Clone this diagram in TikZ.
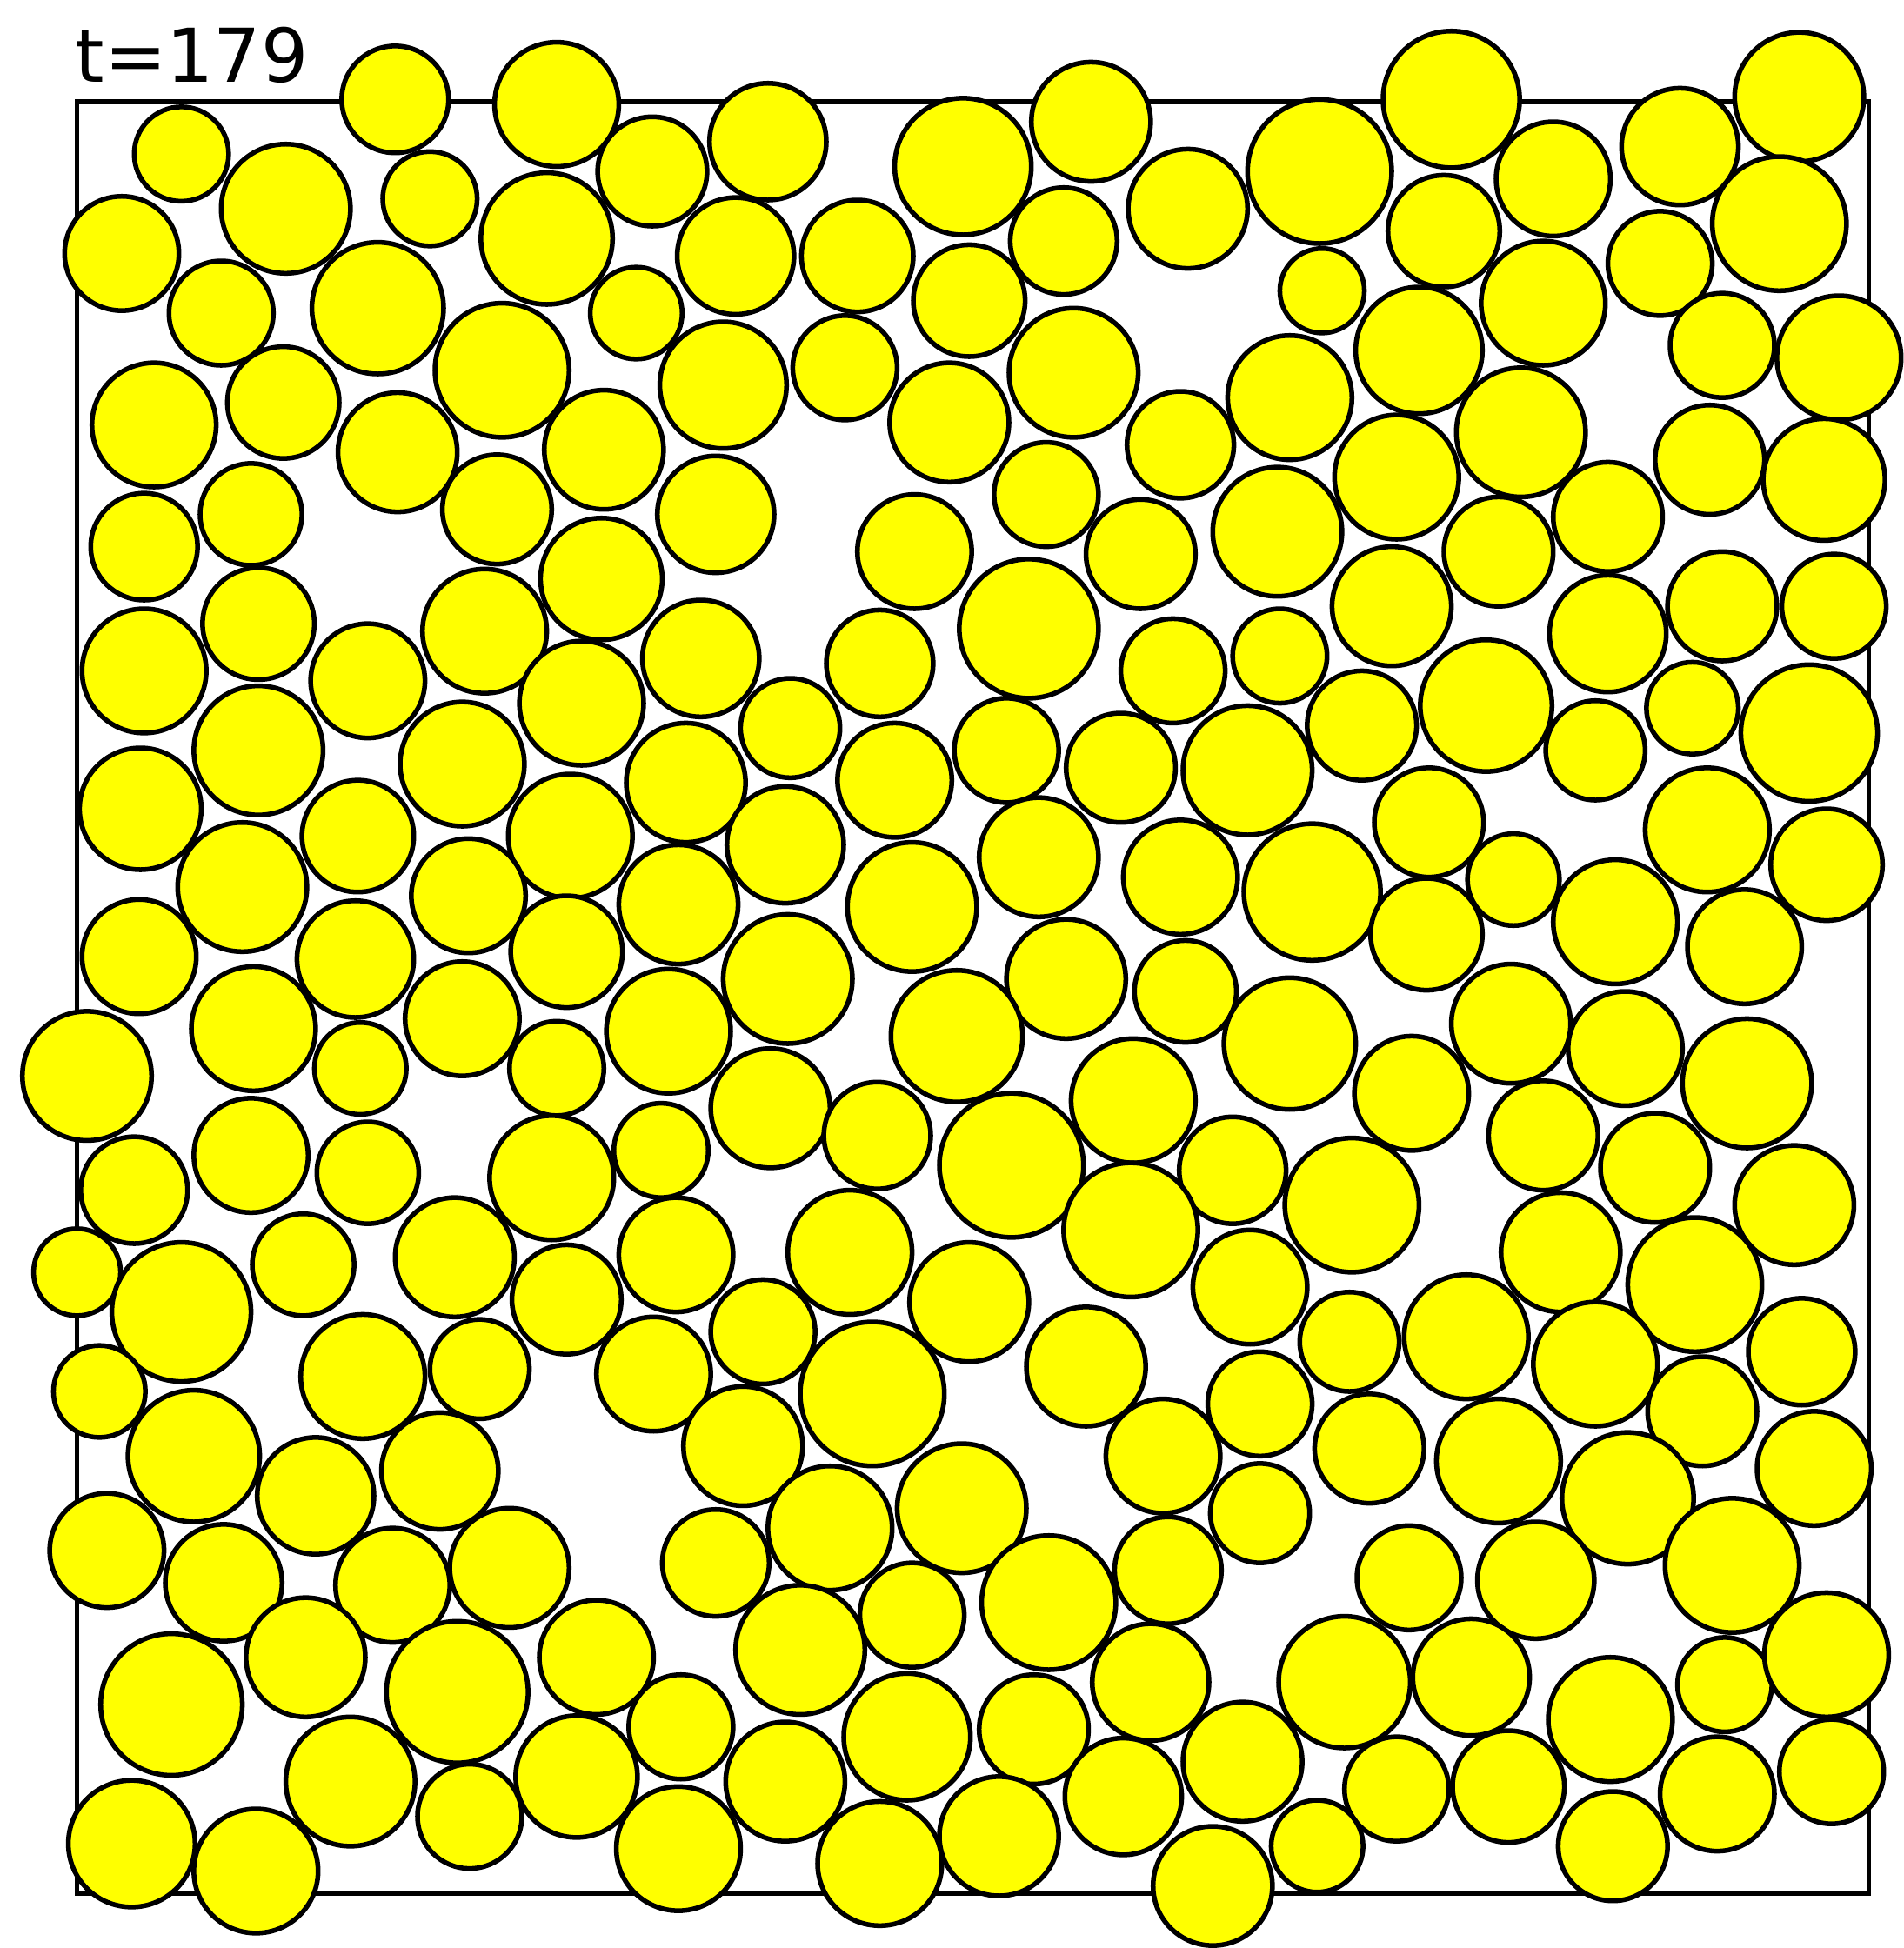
\documentclass[tikz,border=0pt]{standalone}
\usepackage{fontspec}
\usepackage{tikz}
\newfontfamily\labelfont{DejaVu Sans}
\definecolor{grainyellow}{RGB}{255,255,0}

\tikzset{disc/.style={draw=black,fill=grainyellow,line width=1.1pt}}

\begin{document}
\begin{tikzpicture}[x=0.1mm,y=-0.1mm]
\useasboundingbox (0,0) rectangle (1532,1568);
% time stamp:
\node[anchor=base west,inner sep=0pt,font=\labelfont\fontsize{17}{20}\selectfont] (stamp) at (60,66) {t=179};
% box:
\path[draw=black,line width=1.1pt] (62,82) rectangle (1504,1524);
% discs, top to bottom:
\path[disc] (146,124) circle[radius=38];
\path[disc] (318,80) circle[radius=43];
\path[disc] (448,84) circle[radius=50];
\path[disc] (525,138) circle[radius=44];
\path[disc] (618,114) circle[radius=47];
\path[disc] (775,134) circle[radius=55];
\path[disc] (878,98) circle[radius=48];
\path[disc] (956,168) circle[radius=48];
\path[disc] (1062,138) circle[radius=58];
\path[disc] (1168,80) circle[radius=55];
\path[disc] (1250,144) circle[radius=46];
\path[disc] (1352,118) circle[radius=47];
\path[disc] (1448,78) circle[radius=52];
\path[disc] (230,168) circle[radius=52];
\path[disc] (346,160) circle[radius=38];
\path[disc] (440,192) circle[radius=53];
\path[disc] (98,204) circle[radius=46];
\path[disc] (178,252) circle[radius=42];
\path[disc] (304,248) circle[radius=53];
\path[disc] (512,252) circle[radius=37];
\path[disc] (592,206) circle[radius=47];
\path[disc] (690,206) circle[radius=45];
\path[disc] (780,242) circle[radius=45];
\path[disc] (856,194) circle[radius=43];
\path[disc] (1064,234) circle[radius=34];
\path[disc] (1162,186) circle[radius=45];
\path[disc] (1242,244) circle[radius=50];
\path[disc] (1336,212) circle[radius=42];
\path[disc] (1432,180) circle[radius=54];
\path[disc] (1386,278) circle[radius=42];
\path[disc] (1480,288) circle[radius=50];
\path[disc] (1142,282) circle[radius=51];
\path[disc] (1038,320) circle[radius=50];
\path[disc] (864,300) circle[radius=52];
\path[disc] (764,340) circle[radius=48];
\path[disc] (680,296) circle[radius=42];
\path[disc] (582,310) circle[radius=51];
\path[disc] (404,298) circle[radius=54];
\path[disc] (228,324) circle[radius=45];
\path[disc] (124,342) circle[radius=50];
\path[disc] (320,364) circle[radius=48];
\path[disc] (486,362) circle[radius=48];
\path[disc] (400,410) circle[radius=44];
\path[disc] (576,414) circle[radius=47];
\path[disc] (736,444) circle[radius=46];
\path[disc] (842,398) circle[radius=42];
\path[disc] (950,358) circle[radius=43];
\path[disc] (918,446) circle[radius=44];
\path[disc] (1028,428) circle[radius=52];
\path[disc] (1124,384) circle[radius=50];
\path[disc] (1224,348) circle[radius=52];
\path[disc] (1376,370) circle[radius=44];
\path[disc] (1468,386) circle[radius=49];
\path[disc] (1206,444) circle[radius=44];
\path[disc] (1294,416) circle[radius=44];
\path[disc] (116,440) circle[radius=43];
\path[disc] (202,414) circle[radius=41];
\path[disc] (484,466) circle[radius=49];
\path[disc] (1120,488) circle[radius=48];
\path[disc] (1294,510) circle[radius=47];
\path[disc] (1386,488) circle[radius=44];
\path[disc] (1476,488) circle[radius=42];
\path[disc] (116,540) circle[radius=50];
\path[disc] (208,502) circle[radius=45];
\path[disc] (390,508) circle[radius=50];
\path[disc] (296,548) circle[radius=46];
\path[disc] (564,530) circle[radius=47];
\path[disc] (708,534) circle[radius=43];
\path[disc] (828,506) circle[radius=56];
\path[disc] (944,540) circle[radius=42];
\path[disc] (1030,528) circle[radius=38];
\path[disc] (1196,568) circle[radius=53];
\path[disc] (1096,584) circle[radius=44];
\path[disc] (1362,570) circle[radius=37];
\path[disc] (1456,590) circle[radius=55];
\path[disc] (468,566) circle[radius=50];
\path[disc] (208,604) circle[radius=52];
\path[disc] (113,651) circle[radius=49];
\path[disc] (372,615) circle[radius=50];
\path[disc] (636,586) circle[radius=40];
\path[disc] (552,630) circle[radius=48];
\path[disc] (720,628) circle[radius=46];
\path[disc] (810,604) circle[radius=42];
\path[disc] (902,618) circle[radius=44];
\path[disc] (1004,620) circle[radius=52];
\path[disc] (1150,662) circle[radius=44];
\path[disc] (1284,604) circle[radius=40];
\path[disc] (1374,668) circle[radius=50];
\path[disc] (1470,696) circle[radius=45];
\path[disc] (195,714) circle[radius=52];
\path[disc] (288,673) circle[radius=45];
\path[disc] (459,673) circle[radius=50];
\path[disc] (632,680) circle[radius=47];
\path[disc] (836,690) circle[radius=48];
\path[disc] (950,706) circle[radius=46];
\path[disc] (1056,718) circle[radius=55];
\path[disc] (1218,708) circle[radius=37];
\path[disc] (1300,742) circle[radius=50];
\path[disc] (377,721) circle[radius=46];
\path[disc] (546,728) circle[radius=48];
\path[disc] (734,730) circle[radius=52];
\path[disc] (112,770) circle[radius=46];
\path[disc] (286,772) circle[radius=47];
\path[disc] (456,766) circle[radius=45];
\path[disc] (1148,752) circle[radius=45];
\path[disc] (1404,762) circle[radius=46];
\path[disc] (634,788) circle[radius=52];
\path[disc] (858,788) circle[radius=48];
\path[disc] (954,798) circle[radius=41];
\path[disc] (204,828) circle[radius=50];
\path[disc] (372,820) circle[radius=46];
\path[disc] (538,830) circle[radius=50];
\path[disc] (770,834) circle[radius=53];
\path[disc] (1038,840) circle[radius=53];
\path[disc] (1216,824) circle[radius=48];
\path[disc] (1308,844) circle[radius=46];
\path[disc] (1406,872) circle[radius=52];
\path[disc] (70,866) circle[radius=52];
\path[disc] (290,860) circle[radius=37];
\path[disc] (448,860) circle[radius=38];
\path[disc] (620,892) circle[radius=48];
\path[disc] (912,886) circle[radius=50];
\path[disc] (1136,880) circle[radius=46];
\path[disc] (706,914) circle[radius=43];
\path[disc] (108,958) circle[radius=43];
\path[disc] (202,930) circle[radius=46];
\path[disc] (296,944) circle[radius=41];
\path[disc] (444,948) circle[radius=50];
\path[disc] (532,926) circle[radius=38];
\path[disc] (814,938) circle[radius=58];
\path[disc] (992,942) circle[radius=43];
\path[disc] (1242,914) circle[radius=44];
\path[disc] (1332,940) circle[radius=44];
\path[disc] (1444,970) circle[radius=48];
\path[disc] (910,990) circle[radius=54];
\path[disc] (1088,970) circle[radius=54];
\path[disc] (684,1008) circle[radius=50];
\path[disc] (544,1010) circle[radius=46];
\path[disc] (366,1012) circle[radius=48];
\path[disc] (244,1018) circle[radius=41];
\path[disc] (62,1024) circle[radius=35];
\path[disc] (146,1056) circle[radius=56];
\path[disc] (456,1046) circle[radius=44];
\path[disc] (780,1048) circle[radius=48];
\path[disc] (1006,1036) circle[radius=46];
\path[disc] (1256,1008) circle[radius=48];
\path[disc] (1364,1034) circle[radius=54];
\path[disc] (614,1072) circle[radius=42];
\path[disc] (1086,1080) circle[radius=40];
\path[disc] (1180,1076) circle[radius=50];
\path[disc] (1284,1098) circle[radius=50];
\path[disc] (1450,1088) circle[radius=43];
\path[disc] (874,1100) circle[radius=48];
\path[disc] (292,1108) circle[radius=50];
\path[disc] (386,1102) circle[radius=40];
\path[disc] (526,1106) circle[radius=46];
\path[disc] (702,1122) circle[radius=58];
\path[disc] (80,1120) circle[radius=37];
\path[disc] (1014,1130) circle[radius=42];
\path[disc] (1370,1136) circle[radius=44];
\path[disc] (156,1172) circle[radius=53];
\path[disc] (254,1204) circle[radius=47];
\path[disc] (354,1184) circle[radius=47];
\path[disc] (598,1164) circle[radius=48];
\path[disc] (936,1172) circle[radius=46];
\path[disc] (1102,1166) circle[radius=44];
\path[disc] (1206,1176) circle[radius=50];
\path[disc] (1310,1206) circle[radius=53];
\path[disc] (1460,1182) circle[radius=46];
\path[disc] (774,1214) circle[radius=52];
\path[disc] (668,1230) circle[radius=50];
\path[disc] (1014,1218) circle[radius=40];
\path[disc] (86,1248) circle[radius=46];
\path[disc] (180,1274) circle[radius=47];
\path[disc] (316,1276) circle[radius=46];
\path[disc] (410,1262) circle[radius=48];
\path[disc] (576,1258) circle[radius=43];
\path[disc] (734,1300) circle[radius=42];
\path[disc] (844,1290) circle[radius=54];
\path[disc] (940,1264) circle[radius=43];
\path[disc] (1134,1270) circle[radius=42];
\path[disc] (1236,1272) circle[radius=47];
\path[disc] (1394,1260) circle[radius=54];
\path[disc] (138,1372) circle[radius=57];
\path[disc] (246,1334) circle[radius=48];
\path[disc] (368,1362) circle[radius=57];
\path[disc] (480,1334) circle[radius=46];
\path[disc] (644,1328) circle[radius=52];
\path[disc] (926,1354) circle[radius=47];
\path[disc] (1082,1354) circle[radius=53];
\path[disc] (1184,1350) circle[radius=47];
\path[disc] (1296,1384) circle[radius=50];
\path[disc] (1388,1356) circle[radius=38];
\path[disc] (1470,1332) circle[radius=50];
\path[disc] (548,1390) circle[radius=42];
\path[disc] (730,1398) circle[radius=51];
\path[disc] (832,1392) circle[radius=44];
\path[disc] (282,1434) circle[radius=52];
\path[disc] (378,1462) circle[radius=42];
\path[disc] (464,1430) circle[radius=49];
\path[disc] (632,1434) circle[radius=48];
\path[disc] (1000,1418) circle[radius=48];
\path[disc] (1124,1440) circle[radius=42];
\path[disc] (1214,1438) circle[radius=45];
\path[disc] (1382,1444) circle[radius=46];
\path[disc] (1474,1426) circle[radius=42];
\path[disc] (904,1446) circle[radius=47];
\path[disc] (106,1484) circle[radius=51];
\path[disc] (206,1506) circle[radius=50];
\path[disc] (546,1488) circle[radius=50];
\path[disc] (708,1500) circle[radius=50];
\path[disc] (804,1478) circle[radius=48];
\path[disc] (976,1518) circle[radius=48];
\path[disc] (1060,1486) circle[radius=37];
\path[disc] (1298,1486) circle[radius=44];
\end{tikzpicture}
\end{document}
